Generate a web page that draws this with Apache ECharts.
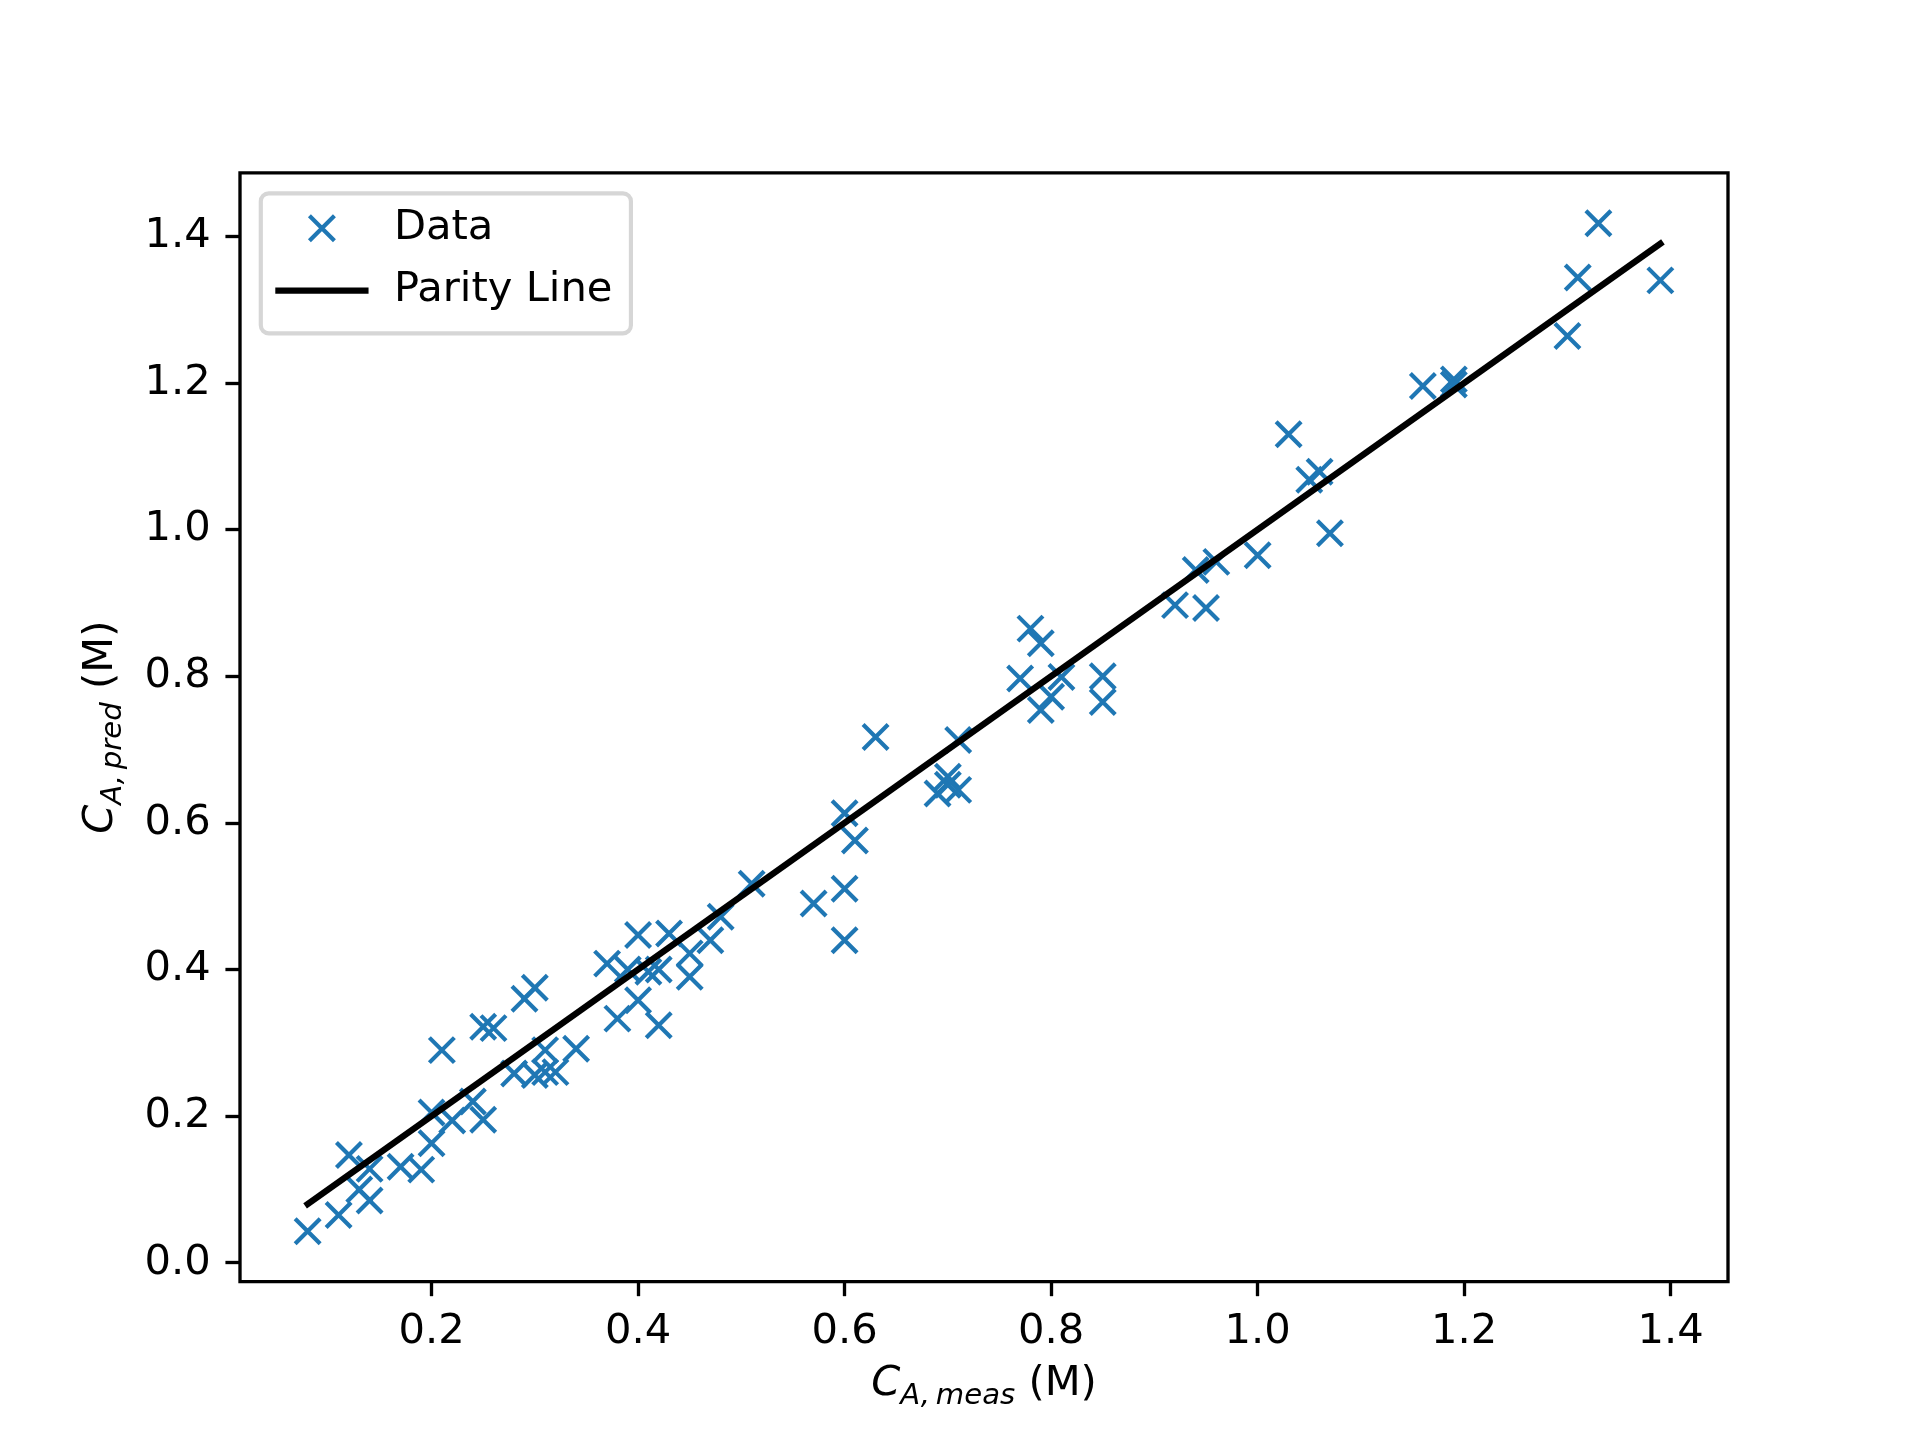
<!DOCTYPE html>
<html>
<head>
<meta charset="utf-8">
<script src="https://cdn.jsdelivr.net/npm/echarts@6/dist/echarts.min.js"></script>
<style>
  html, body { margin: 0; padding: 0; background: #fff; }
  #chart { width: 1920px; height: 1440px; }
</style>
</head>
<body>
<div id="chart"></div>
<script>
// measured vs predicted concentration (M)
var xMeas = [0.08, 0.11, 0.12, 0.13, 0.14, 0.14, 0.17, 0.19, 0.20, 0.20,
             0.21, 0.22, 0.24, 0.25, 0.25, 0.26, 0.28, 0.29, 0.30, 0.30,
             0.31, 0.31, 0.32, 0.34, 0.37, 0.38, 0.39, 0.40, 0.40, 0.41,
             0.42, 0.42, 0.43, 0.45, 0.45, 0.47, 0.48, 0.51, 0.57, 0.60,
             0.60, 0.60, 0.61, 0.63, 0.69, 0.70, 0.70, 0.71, 0.71, 0.77,
             0.78, 0.79, 0.79, 0.80, 0.81, 0.85, 0.85, 0.92, 0.94, 0.95,
             0.96, 1.00, 1.03, 1.05, 1.06, 1.07, 1.16, 1.19, 1.19, 1.30,
             1.31, 1.33, 1.39];
var yPred = [0.043, 0.065, 0.147, 0.100, 0.085, 0.128, 0.131, 0.127, 0.163, 0.205,
             0.290, 0.194, 0.220, 0.195, 0.322, 0.320, 0.258, 0.360, 0.375, 0.256,
             0.260, 0.290, 0.260, 0.292, 0.408, 0.333, 0.400, 0.447, 0.358, 0.397,
             0.400, 0.324, 0.449, 0.422, 0.390, 0.440, 0.472, 0.517, 0.490, 0.613,
             0.510, 0.440, 0.576, 0.717, 0.640, 0.663, 0.652, 0.645, 0.713, 0.797,
             0.865, 0.845, 0.754, 0.772, 0.799, 0.800, 0.765, 0.897, 0.945, 0.893,
             0.956, 0.965, 1.130, 1.068, 1.079, 0.995, 1.196, 1.205, 1.198, 1.264,
             1.344, 1.418, 1.340];
var xTicks = [0.2, 0.4, 0.6, 0.8, 1.0, 1.2, 1.4];
var yTicks = [0.0, 0.2, 0.4, 0.6, 0.8, 1.0, 1.2, 1.4];

var FONT = 'DejaVu Sans';
var BLUE = '#1f77b4';
var PT = 300 / 72;   // figure was saved at 300 dpi
var xMark = 'path://M0,0L1,1M1,0L0,1';

// parity line spans the measured range
var lo = Math.min.apply(null, xMeas), hi = Math.max.apply(null, xMeas);
var parity = [[lo, lo], [hi, hi]];

// 5% padding like matplotlib autoscale
function pad(arr) {
    var a = Math.min.apply(null, arr), b = Math.max.apply(null, arr), m = (b - a) * 0.05;
    return [a - m, b + m];
}
var xr = pad(xMeas.concat([lo, hi])), yr = pad(yPred.concat([lo, hi]));

var rich = {
    i: { fontFamily: FONT, fontSize: 10 * PT, fontStyle: 'italic', color: '#000', lineHeight: 50 },
    s: { fontFamily: FONT, fontSize: 7 * PT, fontStyle: 'italic', color: '#000', lineHeight: 50, padding: [24, 0, 0, 0] },
    n: { fontFamily: FONT, fontSize: 10 * PT, color: '#000', lineHeight: 50 }
};

function axisCommon(range, ticks) {
    return {
        type: 'value',
        min: range[0],
        max: range[1],
        splitLine: { show: false },
        axisLine: { show: false, onZero: false },
        axisTick: {
            show: true, inside: false, length: 3.5 * PT, customValues: ticks,
            lineStyle: { color: '#000', width: 0.8 * PT }
        },
        axisLabel: {
            show: true, customValues: ticks, margin: 7 * PT,
            color: '#000', fontFamily: FONT, fontSize: 10 * PT,
            formatter: function (v) { return v.toFixed(1); }
        },
        nameLocation: 'middle',
        nameTextStyle: { rich: rich }
    };
}

var xAxis = axisCommon(xr, xTicks);
xAxis.name = '{i|C}{s|A,\u2009meas}{n| (M)}';
xAxis.nameGap = 73;
var yAxis = axisCommon(yr, yTicks);
yAxis.name = '{i|C}{s|A,\u2009pred}{n| (M)}';
yAxis.nameGap = 114;

var chart = echarts.init(document.getElementById('chart'), null, { renderer: 'canvas' });
chart.setOption({
    animation: false,
    backgroundColor: '#fff',
    grid: {
        left: 240, right: 192, top: 172.8, bottom: 158.4,
        show: true, borderColor: '#000', borderWidth: 0.8 * PT, backgroundColor: 'transparent'
    },
    xAxis: xAxis,
    yAxis: yAxis,
    legend: {
        orient: 'vertical',
        left: 260.8, top: 193.3,
        padding: [10, 18.5, 17.7, 14.5],
        itemGap: 12.3,
        itemWidth: 87, itemHeight: 25,
        backgroundColor: 'rgba(255,255,255,0.8)',
        borderColor: '#d6d6d6', borderWidth: 1 * PT, borderRadius: 8,
        selectedMode: false,
        textStyle: { fontFamily: FONT, fontSize: 10 * PT, color: '#000', lineHeight: 45, padding: [5, 0, 0, 23.5] },
        itemStyle: { borderWidth: 1 * PT },
        lineStyle: { width: 1.5 * PT },
        data: [
            { name: 'Data', icon: xMark, itemStyle: { color: 'transparent', borderColor: BLUE, borderWidth: 1 * PT } },
            { name: 'Parity Line', itemStyle: { color: 'transparent', borderWidth: 0, opacity: 0 } }
        ]
    },
    series: [
        {
            name: 'Data',
            type: 'scatter',
            z: 2,
            symbol: xMark,
            symbolSize: 6 * PT,
            itemStyle: { color: 'transparent', borderColor: BLUE, borderWidth: 1 * PT, opacity: 1 },
            emphasis: { disabled: true },
            data: xMeas.map(function (x, i) { return [x, yPred[i]]; })
        },
        {
            name: 'Parity Line',
            type: 'line',
            z: 3,
            symbol: 'none',
            showSymbol: false,
            lineStyle: { color: '#000', width: 1.5 * PT, cap: 'square' },
            emphasis: { disabled: true },
            data: parity
        }
    ]
});
</script>
</body>
</html>
